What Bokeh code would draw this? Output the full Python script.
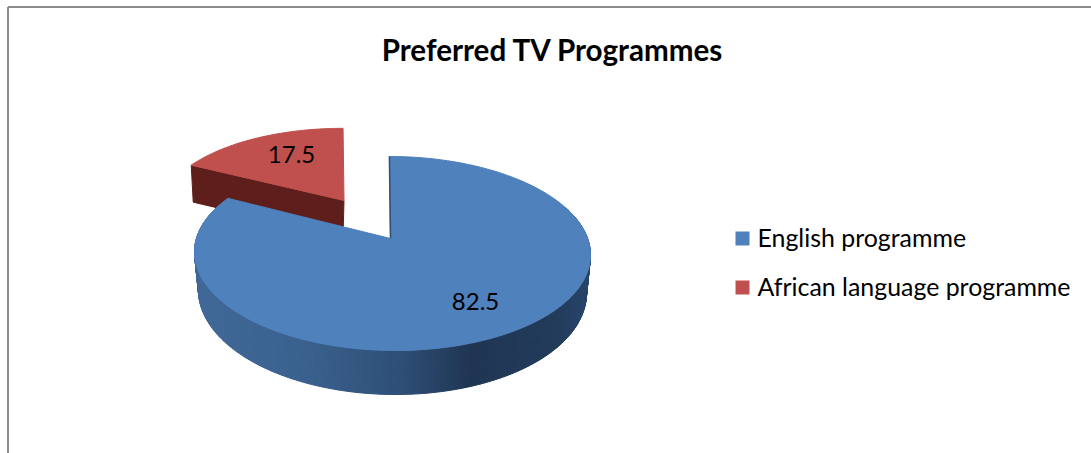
import math
from bokeh.plotting import figure
from bokeh.models import Range1d
from bokeh.core.properties import value
from bokeh.embed import file_html
from bokeh.resources import INLINE

title_text = "Preferred TV Programmes"
categories = ["English programme", "African language programme"]
values = [82.5, 17.5]
colors = ["#4F81BD", "#C0504D"]
side_red = "#5E1F1C"
FONT = "Lato"

W, H = 1091, 453
p = figure(width=W, height=H, output_backend="svg", toolbar_location=None,
           x_range=Range1d(0, W), y_range=Range1d(H, 0), min_border=0,
           background_fill_color="white", border_fill_color="white")
p.axis.visible = False
p.grid.visible = False
p.outline_line_color = None
p.styles = {"position": "absolute", "left": "0px", "top": "0px"}

# frame of the chart
p.segment([7.5, 7.5], [6.5, 6.5], [7.5, W], [H, 6.5], line_color="#8C8C8C", line_width=2)

# perspective projection of the disc
K, A, B, S = 0.1546, 94.7, 195.6, -3.0
X0, Y0 = 391.5, 238.0
DEPTH = 44.0


def proj(deg, x0=X0, y0=Y0, sx=1.0, sy=1.0):
    t = math.radians(deg)
    u, v = math.sin(t), math.cos(t)
    w = 1 + K * v
    return x0 + sx * (B * u + S * v) / w, y0 - sy * A * v / w


def lower(deg):
    t = math.radians(deg)
    v = math.cos(t)
    x, y = proj(deg)
    return X0 + (x - X0) * 0.98, y + DEPTH * (1 - K) / (1 + K * v)


def shade(x):
    stops = [(194, (64, 104, 152)), (300, (58, 97, 142)), (400, (46, 79, 118)),
             (470, (31, 53, 82)), (560, (34, 59, 91)), (590, (40, 70, 106))]
    for (a, ca), (b, cb) in zip(stops, stops[1:]):
        if x <= b:
            f = max(0.0, (x - a) / (b - a))
            c = [round(ca[i] + (cb[i] - ca[i]) * f) for i in range(3)]
            return "#%02x%02x%02x" % tuple(c)
    return "#%02x%02x%02x" % stops[-1][1]


ang_en = values[0] / sum(values) * 360
arc_steps = 120

# exploded slice: red wall and top
RX, RY, RSX, RSY, RD = 345.0, 200.0, 0.94, 0.88, 37.0
c0 = proj(ang_en, RX, RY, RSX, RSY)
p.patch([c0[0], RX - 1.5, RX - 2.5, c0[0] + 2], [c0[1], RY, RY + RD, c0[1] + RD],
        fill_color=side_red, line_color=side_red, line_width=1)
red_pts = [proj(ang_en + (360 - ang_en) * i / 60, RX, RY, RSX, RSY) for i in range(61)]
p.patch([RX - 1.5] + [q[0] for q in red_pts], [RY] + [q[1] for q in red_pts],
        fill_color=colors[1], line_color=colors[1], line_width=1)

# shaded outer wall of the large slice
xs, ys, cs = [], [], []
deg = 70.0
while deg < 290:
    a0, a1 = proj(deg), proj(deg + 0.75)
    b0, b1 = lower(deg), lower(deg + 0.75)
    xs.append([a0[0], a1[0], b1[0], b0[0]])
    ys.append([a0[1], a1[1], b1[1], b0[1]])
    cs.append(shade((a0[0] + a1[0]) / 2))
    deg += 0.75
p.patches(xs, ys, fill_color=cs, line_color=cs, line_width=1)

# top of the large slice
blue_pts = [proj(ang_en * i / arc_steps) for i in range(arc_steps + 1)]
p.patch([X0 - 1.5] + [q[0] for q in blue_pts], [Y0] + [q[1] for q in blue_pts],
        fill_color=colors[0], line_color=colors[0], line_width=1)
# cut edge seen at the notch
p.line([blue_pts[0][0], X0 - 1.5], [blue_pts[0][1], Y0], line_color="#2F5079", line_width=1.5)

# data labels
p.text([291], [154], text=[f"{values[1]}"], text_font=value(FONT), text_font_size="24px",
       text_color="black", text_align="center", text_baseline="middle")
p.text([475], [301], text=[f"{values[0]}"], text_font=value(FONT), text_font_size="24px",
       text_color="black", text_align="center", text_baseline="middle")

# title
p.text([552.5], [49], text=[title_text], text_font=value(FONT), text_font_style="bold",
       text_font_size="29.6px", text_color="black", text_align="center", text_baseline="middle")

# legend
for cat, col, y in zip(categories, colors, [238, 287]):
    p.rect([742], [y], width=14, height=14, fill_color=col, line_color=None)
    p.text([757], [y - 1.5], text=[cat], text_font=value(FONT), text_font_size="24.9px",
           text_color="black", text_align="left", text_baseline="middle")

open("out.html", "w").write(file_html(p, INLINE))
